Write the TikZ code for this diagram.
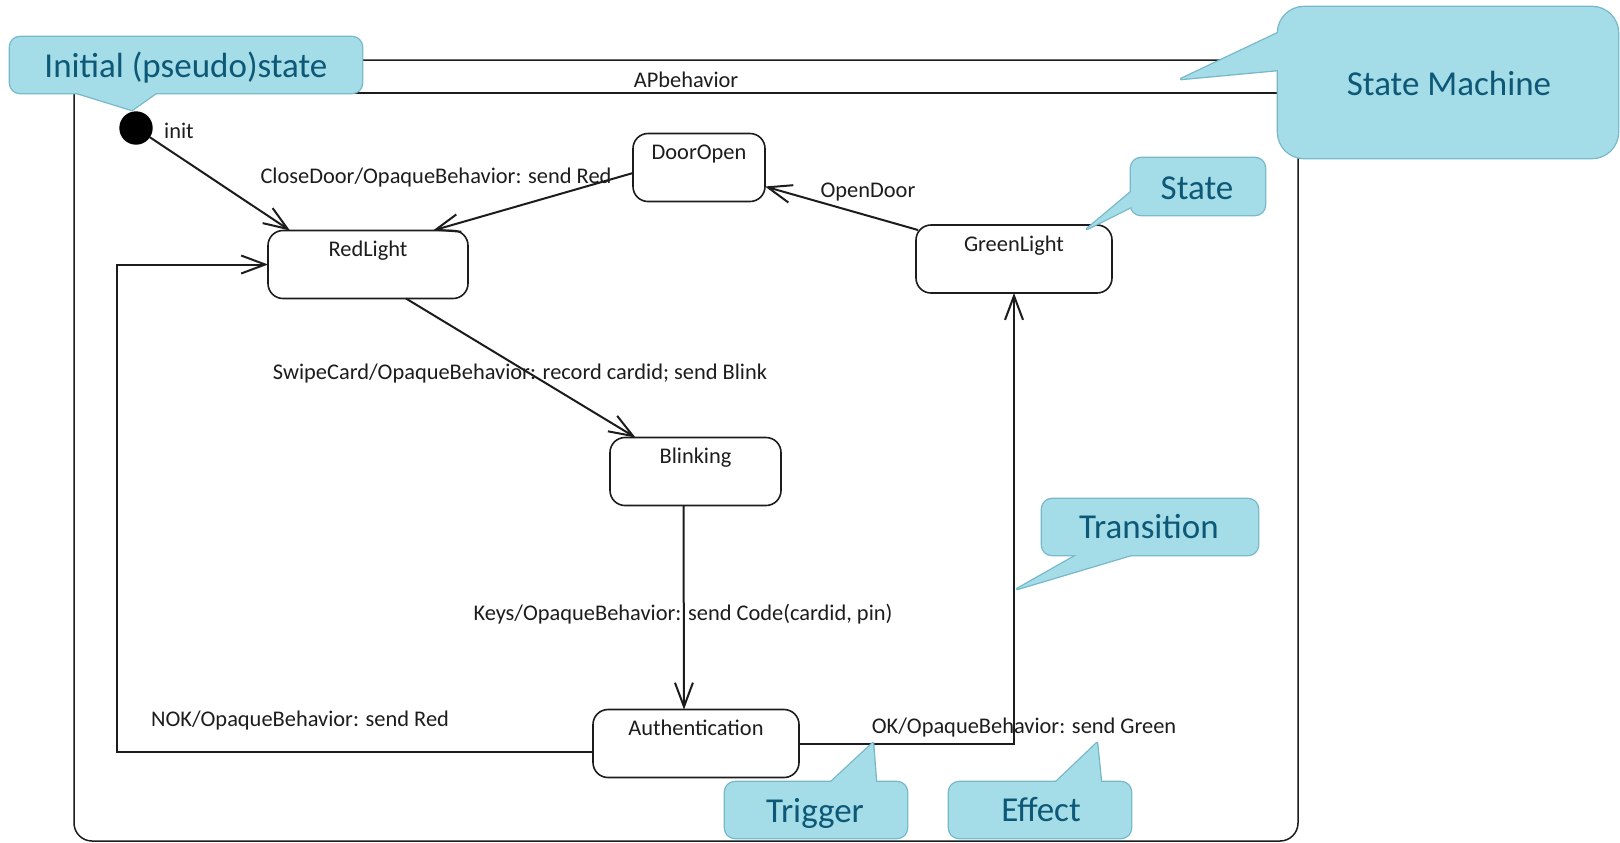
\documentclass[tikz,border=0pt]{standalone}
\usepackage{fontspec}
\setmainfont{Carlito}
\usetikzlibrary{arrows.meta,calc}

\definecolor{bubblefillc}{RGB}{164,220,231}
\definecolor{bubblelinec}{RGB}{118,184,201}
\definecolor{bubbletextc}{RGB}{12,88,118}
\definecolor{ink}{RGB}{28,28,28}

% callout: rounded box plus a triangular pointer, merged into one outline
% (stroke both at double width, then fill both so only the outer half shows)
\newcommand\calloutbubble[3]{%
  \draw[bubbleedge, rounded corners=#2] #1;
  \draw[bubbleedge] #3 -- cycle;
  \fill[bubblefill, rounded corners=#2] #1;
  \fill[bubblefill] #3 -- cycle;
}

\begin{document}
\begin{tikzpicture}[x=0.5pt,y=-0.5pt,
  every node/.style={inner sep=0pt, outer sep=0pt},
  umltext/.style={font=\fontsize{11.2}{13}\selectfont, text=ink},
  umlstate/.style={draw=ink, line width=0.8pt, rounded corners=7.5pt, fill=white,
    minimum height=34pt, text height=13pt, text depth=21pt, umltext},
  trans/.style={draw=ink, line width=1pt,
    -{Straight Barb[length=12pt,width=9pt]}},
  lbl/.style={umltext, anchor=base},
  bubbleedge/.style={draw=bubblelinec, line width=1.3pt, line join=round},
  bubblefill/.style={fill=bubblefillc},
  bubbletext/.style={anchor=base, text=bubbletextc, font=\fontsize{17.5}{20}\selectfont},
]
\useasboundingbox (0,0) rectangle (1620,842);

% state machine frame with its name compartment
\node[draw=ink, line width=0.75pt, rounded corners=9pt,
      minimum width=612pt, minimum height=390.5pt] (apb) at (686,450.5) {};
\draw[ink, line width=0.75pt] ($(apb.north west)+(0,33)$) -- ($(apb.north east)+(0,33)$);
\node[lbl] (apbname) at (686,87) {APbehavior};

% states
\node[circle, fill=black, minimum size=16.7pt] (init) at (136,128) {};
\node[lbl] (initname) at (179,138) {init};
\node[umlstate, minimum width=100pt] (red)   at (368,264.5)   {RedLight};
\node[umlstate, minimum width=66pt]  (door)  at (699,167.5)   {DoorOpen};
\node[umlstate, minimum width=98pt]  (green) at (1014,259)    {GreenLight};
\node[umlstate, minimum width=85.5pt] (blink) at (695.5,471.5) {Blinking};
\node[umlstate, minimum width=103pt] (auth)  at (696,743.5)   {Authentication};

% transitions
\draw[trans] (init) -- ($(red.north west)+(22,0)$);
\draw[trans] ($(door.west)+(0,5.5)$) -- ($(red.north east)+(-35,0)$);
\draw[trans] ($(green.north west)+(2,5)$) -- ($(door.east)+(0,19)$);
\draw[trans] ($(red.south)+(38,0)$) -- ($(blink.north)+(-60,0)$);
\draw[trans] ($(blink.south)+(-12,0)$) -- ($(auth.north)+(-12,0)$);
\draw[trans] ($(auth.west)+(0,8.5)$) -| ($(red.west)+(-151,0)$) -- (red.west);
\draw[trans] (auth.east) -| (green.south);

% transition labels
\node[lbl] (lclose) at (436,183) {CloseDoor/OpaqueBehavior: send Red};
\node[lbl] (lopen)  at (868,197) {OpenDoor};
\node[lbl] (lswipe) at (520,379) {SwipeCard/OpaqueBehavior: record cardid; send Blink};
\node[lbl] (lkeys)  at (683,620) {Keys/OpaqueBehavior: send Code(cardid, pin)};
\node[lbl] (lnok)   at (300,726) {NOK/OpaqueBehavior: send Red};
\node[lbl] (lok)    at (1024,733) {OK/OpaqueBehavior: send Green};

% explanatory callouts
\calloutbubble{(10,37) rectangle (362,93)}{5pt}{(77,93) -- (132,110) -- (156,93)}
\node[bubbletext] (cinit) at (186,77) {Initial (pseudo)state};

\calloutbubble{(1278,7) rectangle (1618,158)}{13pt}{(1278,33) -- (1181,79) -- (1278,70)}
\node[bubbletext] (cmachine) at (1449,95) {State Machine};

\calloutbubble{(1131,158) rectangle (1265,215)}{5pt}{(1131,192) -- (1087,229) -- (1131,207)}
\node[bubbletext] (cstate) at (1197,199) {State};

\calloutbubble{(1042,499) rectangle (1258,555)}{5pt}{(1077,555) -- (1017,589) -- (1131,555)}
\node[bubbletext] (ctrans) at (1149,538) {Transition};

\calloutbubble{(725,782) rectangle (907,838)}{5pt}{(831,782) -- (873,743) -- (876,782)}
\node[bubbletext] (ctrigger) at (815,822) {Trigger};

\calloutbubble{(949,782) rectangle (1131,838)}{5pt}{(1056,782) -- (1097,743) -- (1101,782)}
\node[bubbletext] (ceffect) at (1041,821) {Effect};
\end{tikzpicture}
\end{document}
